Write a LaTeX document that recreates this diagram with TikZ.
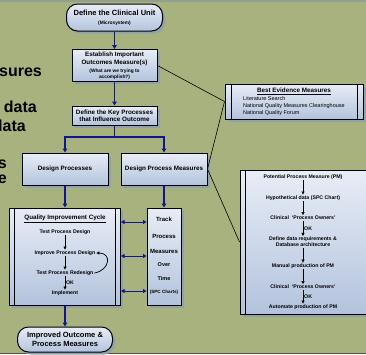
\documentclass[tikz,border=0pt]{standalone}
\usepackage{fontspec}
\setmainfont{Liberation Sans}
\usetikzlibrary{shadows,arrows.meta,positioning}

\definecolor{slidebg}{HTML}{A8B27E}
\definecolor{topband}{HTML}{94A08E}
\definecolor{botband}{HTML}{4C5538}
\definecolor{navy}{HTML}{12168E}
\definecolor{boxtop}{HTML}{E8EDF6}
\definecolor{boxbot}{HTML}{B3C3DD}
\definecolor{shade}{HTML}{8DA3AF}

\newcommand{\fshead}{\fontsize{7.5}{8.8}\selectfont\bfseries}
\newcommand{\fsmain}{\fontsize{6.3}{7.1}\selectfont\bfseries}
\newcommand{\fssub}{\fontsize{4.8}{5.6}\selectfont\bfseries}
\newcommand{\fsitem}{\fontsize{5.2}{6.2}\selectfont\bfseries}
\newcommand{\fslist}{\fontsize{5.5}{7}\selectfont}
\newcommand{\fsslide}{\fontsize{16}{19}\selectfont\bfseries}

\begin{document}
\begin{tikzpicture}[x=1pt, y=-1pt,
	box/.style={draw, line width=1pt, top color=boxtop, bottom color=boxbot, align=center, inner sep=1pt,
		drop shadow={shadow xshift=2.5pt, shadow yshift=-2.5pt, fill=shade, opacity=0.9}},
	endbox/.style={box, rounded corners=11pt},
	flow/.style={navy, line width=1.2pt, -{Triangle[length=4pt, width=4.5pt]}},
	both/.style={navy, line width=1pt, {Triangle[length=3.5pt, width=4pt]}-{Triangle[length=3.5pt, width=4pt]}},
	down/.style={line width=0.8pt, -{Triangle[length=3pt, width=3pt]}},
	item/.style={inner sep=0.8pt, font=\fsitem},
	callout/.style={line width=0.6pt},
	slidetext/.style={inner sep=0pt, font=\fsslide},
]
	\useasboundingbox (0,0) rectangle (366,354);
	\clip (0,0) rectangle (366,354);

	% background
	\fill[slidebg] (0,0) rectangle (366,354);
	\fill[topband] (0,0) rectangle (366,2);
	\fill[botband] (0,352.5) rectangle (366,354);

	% slide text behind the chart
	\node[slidetext, anchor=base east] (st1) at (42,76) {sures};
	\node[slidetext, anchor=base east] (st2) at (37,112) {e data};
	\node[slidetext, anchor=base east] (st3) at (26,131) {data};
	\node[slidetext, anchor=base east] (st4) at (7,168) {s};
	\node[slidetext, anchor=base east] (st5) at (7,183) {e};

	% main chain
	\node[endbox, minimum width=96pt, minimum height=27pt, font=\fssub] (unit) at (114.5,17.5)
		{{\fshead Define the Clinical Unit}\\[3.4pt](Microsystem)};
	\node[box, minimum width=85pt, minimum height=32pt, font=\fssub] (estab) at (114.5,65.5)
		{{\fsmain Establish Important}\\[1.5pt]{\fsmain Outcomes Measure(s)}\\[3pt](What are we trying to\\accomplish?)};
	\node[box, minimum width=85pt, minimum height=19pt, font=\fsmain] (keyp) at (114.5,115.5)
		{Define the Key Processes\\that Influence Outcome};
	\node[box, minimum width=86pt, minimum height=32pt, font=\fsmain] (dproc) at (65,169) {Design Processes};
	\node[box, minimum width=86pt, minimum height=32pt, font=\fsmain] (dpm) at (164,169) {Design Process Measures};
	\node[box, minimum width=111pt, minimum height=97pt] (qic) at (65,256.5) {};
	\node[box, minimum width=34pt, minimum height=97pt] (track) at (164,256.5) {};
	\node[endbox, minimum width=95pt, minimum height=25pt, font=\fshead] (impr) at (65,339.5)
		{Improved Outcome \&\\Process Measures};

	% side boxes
	\node[box, minimum width=138pt, minimum height=35pt] (best) at (294,101.5) {};
	\node[box, minimum width=132pt, minimum height=144pt] (pm) at (306,242) {};

	% double side lines
	\draw[line width=1pt] ([xshift=5.5pt]qic.north west) -- ([xshift=5.5pt]qic.south west);
	\draw[line width=1pt] ([xshift=-5.5pt]qic.north east) -- ([xshift=-5.5pt]qic.south east);
	\draw[line width=1pt] ([xshift=7pt]best.north west) -- ([xshift=7pt]best.south west);
	\draw[line width=1pt] ([xshift=-6pt]best.north east) -- ([xshift=-6pt]best.south east);
	\draw[line width=1.8pt] ([xshift=6pt]pm.north west) -- ([xshift=6pt]pm.south west);

	% flow arrows
	\draw[flow] (unit) -- (estab);
	\draw[flow] (estab) -- (keyp);
	\draw[navy, line width=1.2pt] (keyp.south) -- ++(0,11.5) coordinate (split);
	\draw[flow] (split) -| (dproc);
	\draw[flow] (split) -| (dpm);
	\draw[flow] (dproc) -- (qic);
	\draw[flow] (dpm) -- (track);
	\draw[flow] (qic) -- (impr);
	\draw[both] (qic.east |- 0,222) -- (track.west |- 0,222);
	\draw[both] (qic.east |- 0,256) -- (track.west |- 0,256);
	\draw[both] (qic.east |- 0,291) -- (track.west |- 0,291);

	% callout lines
	\draw[callout] (estab.east) -- (best.west);
	\draw[callout] (dpm.east) -- (best.west);
	\draw[callout] (dpm.east) -- (pm.west);

	% quality improvement cycle
	\node[inner sep=0.8pt, font=\fsmain] (qtitle) at (65,219) {\underline{Quality Improvement Cycle}};
	\node[item] (q1) at (65,232) {Test Process Design};
	\node[item] (q2) at (65,253) {Improve Process Design};
	\node[item] (q3) at (65,273) {Test Process Redesign};
	\node[item] (q4) at (65,293) {Implement};
	\draw[down] (q1) -- (q2);
	\draw[down] (q2) -- (q3);
	\draw[down] (q3) -- node[right, item] (ok1) {OK} (q4);
	\draw[down, line width=0.7pt] (q3.east) to[out=10, in=0, looseness=2] (q2.east);

	% track column
	\node[item, font=\fontsize{6}{7}\selectfont\bfseries] (tk1) at (164,219) {Track};
	\node[item, font=\fontsize{6}{7}\selectfont\bfseries] (tk2) at (164,236) {Process};
	\node[item, font=\fontsize{6}{7}\selectfont\bfseries] (tk3) at (164,251) {Measures};
	\node[item, font=\fontsize{5.5}{6.5}\selectfont\bfseries] (tk4) at (164,265) {Over};
	\node[item, font=\fontsize{5.5}{6.5}\selectfont\bfseries] (tk5) at (164,279) {Time};
	\node[item, font=\fontsize{4.6}{5.5}\selectfont\bfseries] (tk6) at (164,292) {(SPC Charts)};

	% best evidence
	\node[inner sep=0.8pt, font=\fsmain] (btitle) at (294,91.5) {\underline{Best Evidence Measures}};
	\node[inner sep=0pt, anchor=north west, align=left, font=\fslist] (blist) at (243,96)
		{Literature Search\\National Quality Measures Clearinghouse\\National Quality Forum};

	% process measure steps
	\node[item] (p1) at (303,177) {Potential Process Measure (PM)};
	\node[item] (p2) at (303,198) {Hypothetical data (SPC Chart)};
	\node[item] (p3) at (303,218) {Clinical\ \ `Process Owners'};
	\node[item, align=center] (p4) at (303,242) {Define data requirements \&\\Database architecture};
	\node[item] (p5) at (303,266) {Manual production of PM};
	\node[item] (p6) at (303,287) {Clinical\ \ `Process Owners'};
	\node[item] (p7) at (303,307) {Automate production of PM};
	\draw[down] (p1) -- (p2);
	\draw[down] (p2) -- (p3);
	\draw[down] (p3) -- node[right, item] (ok2) {OK} (p4);
	\draw[down] (p4) -- (p5);
	\draw[down] (p5) -- (p6);
	\draw[down] (p6) -- node[right, item] (ok3) {OK} (p7);
\end{tikzpicture}
\end{document}
